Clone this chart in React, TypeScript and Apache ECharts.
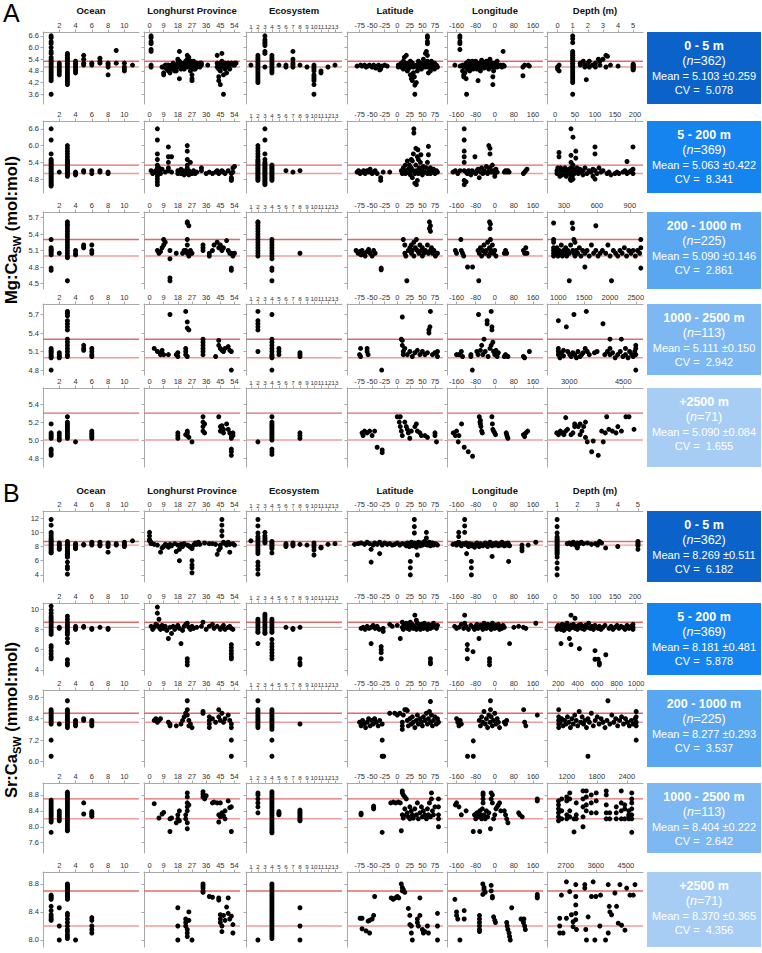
import React, { useEffect, useRef } from 'react';
import * as echarts from 'echarts';

// ---------- DATA: each row = [x, y1, y2, ...] ----------
// Panel A : Mg:Ca_SW (mol:mol)
const A1_OCEAN = [
  [1, 6.6, 6.5, 6.3, 6.2, 6.0, 5.8, 5.7, 5.5, 5.4, 5.3, 5.2, 5.1, 5.0, 4.9, 4.8, 4.7, 4.6, 4.5, 4.4, 4.3, 3.6],
  [2, 5.2, 5.1, 5.0, 4.9, 4.8, 4.7, 4.6],
  [3, 5.7, 5.6, 5.5, 5.4, 5.3, 5.2, 5.1, 5.0, 4.9, 4.8, 4.7, 4.6, 4.5, 4.4, 4.3, 4.2, 4.1],
  [4, 5.3, 5.2, 5.1, 5.0, 4.9, 4.8, 4.7], [5, 5.6, 5.4, 5.2, 5.1], [6, 5.2, 5.1], [7, 5.45, 5.3, 5.2],
  [8, 5.2, 5.1, 5.0, 4.6], [9, 5.85, 5.2], [10, 5.2, 5.0, 4.9, 4.8], [11, 5.1],
];
const A1_PROVINCE = [
  [1, 6.6, 6.5, 6.3, 6.2, 5.9, 5.8, 5.1, 5.0], [8, 5.0], [9, 4.6, 4.7, 5.0], [10, 5.1, 5.0], [11, 4.9, 5.0, 5.1],
  [12, 5.1, 4.8], [13, 5.0, 4.7], [14, 5.1, 4.9], [15, 5.0, 5.2], [16, 5.1, 5.0, 4.8], [17, 4.8, 5.1],
  [18, 5.2, 5.4, 5.0], [19, 5.8, 5.3, 4.4, 5.1], [20, 5.1, 4.9, 5.2], [21, 5.0, 5.1], [22, 4.9, 5.2, 5.0],
  [23, 5.1, 5.3], [24, 5.4, 5.6, 5.0, 5.2], [25, 5.5, 5.2, 5.1], [26, 5.0, 4.8, 5.3], [27, 4.6, 4.3, 4.4, 5.1],
  [28, 5.3, 5.1, 4.9], [29, 4.9, 5.2], [30, 5.2, 5.0], [31, 5.1], [32, 5.0, 5.2], [33, 5.2, 5.1], [37, 5.1],
  [43, 5.6, 5.0, 5.2], [44, 4.5, 4.3, 5.1, 4.9], [45, 4.1, 4.8, 5.0, 5.2], [46, 5.3, 5.7, 5.0], [47, 3.6, 4.6, 5.1],
  [48, 4.9, 5.2, 5.0], [49, 4.7, 5.1], [50, 5.0, 5.2], [51, 4.9, 5.1], [52, 5.2], [53, 5.1], [54, 5.1, 5.2], [55, 5.2],
];
const A1_ECO = [
  [1, 5.1], [2, 5.6, 5.5, 5.4, 5.3, 5.2, 5.1, 5.0, 4.9, 4.8, 4.7, 4.6, 4.5, 4.4, 4.3, 4.2],
  [3, 6.6, 6.4, 6.3, 6.2, 6.1, 5.8, 5.7, 5.0], [4, 5.6, 5.5, 5.4, 5.3, 5.2, 5.1, 5.0, 4.9, 4.8, 4.7],
  [5, 5.1], [6, 5.0, 5.1], [7, 5.8, 5.4, 5.2, 5.1, 5.0], [8, 5.1], [9, 5.0],
  [10, 5.1, 5.0, 4.9, 4.8, 4.6, 4.5, 4.4, 4.3, 4.1, 3.6], [11, 4.7, 4.8], [12, 5.0], [13, 5.1],
];
const A1_LAT = [
  [-80, 5.05], [-73, 5.1], [-70, 5.05], [-65, 5.1], [-62, 5.0], [-58, 5.05], [-55, 5.1], [-50, 5.0], [-47, 5.1],
  [-43, 4.95], [-40, 5.05], [-37, 5.1], [-35, 4.85], [-33, 4.9], [-30, 5.05], [-25, 5.1], [-20, 5.05],
  [2, 5.1, 5.0], [5, 5.05], [8, 5.2, 5.0], [10, 5.1], [12, 5.3, 4.9], [14, 5.5, 5.1], [16, 5.0, 5.2], [18, 5.6, 5.1],
  [20, 5.05, 4.8], [22, 5.2, 4.9], [24, 5.1], [26, 4.6, 5.0, 5.3], [28, 4.4, 5.1], [30, 4.5, 4.3, 5.2], [32, 4.7, 5.0],
  [34, 5.05, 4.5], [35, 4.07, 3.6], [38, 4.2, 5.1], [40, 5.0, 4.8], [42, 5.3, 5.1], [44, 5.0], [46, 5.2], [48, 5.1, 4.9],
  [50, 5.0], [52, 5.4], [54, 5.1, 5.2], [56, 5.7, 5.0], [58, 5.8, 5.1], [60, 6.6, 6.5, 6.3, 6.2, 5.6, 5.3], [62, 5.0, 4.7],
  [64, 5.2, 5.1], [66, 4.8, 5.0], [68, 5.1, 5.3], [70, 5.0], [72, 5.1], [74, 5.2, 4.9], [76, 5.0, 5.1], [78, 5.1], [80, 5.0],
];
const A1_LON = [
  [-167, 5.1], [-146, 6.6, 6.5, 6.3, 6.2, 5.9], [-145, 5.05], [-135, 5.1, 4.8], [-130, 4.6, 4.5, 5.0], [-125, 5.1, 4.7],
  [-120, 5.2, 5.0, 4.4], [-118, 3.6], [-115, 5.1, 4.9], [-110, 5.0, 5.3], [-105, 5.2, 4.8], [-100, 5.1], [-95, 5.0, 5.3],
  [-90, 5.1, 4.9], [-85, 5.2], [-80, 5.05, 5.3], [-75, 5.1, 4.9], [-70, 4.3, 5.0], [-65, 5.2, 5.1], [-60, 5.0, 4.8],
  [-55, 5.1, 5.35], [-50, 5.05], [-45, 5.2, 4.95], [-40, 5.1], [-35, 5.0, 5.3], [-30, 5.1], [-25, 5.2, 4.9],
  [-20, 5.05, 5.4], [-15, 5.1], [-10, 5.0, 5.2], [-8, 4.1, 4.5], [-5, 5.1, 4.8], [0, 5.0, 5.2], [5, 5.1], [10, 5.0, 5.3],
  [15, 5.1], [20, 5.05], [25, 5.1], [30, 5.0], [35, 5.8, 5.1], [40, 5.05], [118, 4.55, 5.0], [125, 5.1], [140, 5.1], [145, 5.05],
];
const A1_DEPTH = [
  [0, 5.0, 4.9], [0.1, 4.8, 5.1],
  [1, 6.6, 6.45, 6.25, 5.8, 5.7, 5.6, 5.5, 5.4, 5.3, 5.2, 5.1, 5.0, 4.9, 4.8, 4.7, 4.6, 4.5, 4.4, 4.3, 4.2, 3.6],
  [1.5, 5.2, 5.1], [1.7, 5.3], [1.8, 5.1, 5.0], [1.9, 4.35], [2.0, 5.2], [2.1, 5.3, 5.0], [2.3, 5.1], [2.5, 5.2, 5.0],
  [2.7, 5.4], [2.8, 5.3, 5.1], [3.0, 5.4], [3.2, 5.6, 5.0], [3.3, 5.55], [3.5, 5.1], [4.0, 5.05],
  [5, 5.15, 5.1, 5.05, 5.0, 4.95, 4.9, 4.85],
];

const A2_OCEAN = [
  [1, 6.6, 6.2, 5.7, 5.5, 5.45, 5.4, 5.35, 5.3, 5.25, 5.2, 5.15, 5.1, 5.05, 5.0, 4.95, 4.9, 4.85, 4.8, 4.75, 4.7, 4.65, 4.6, 4.55],
  [2, 5.05],
  [3, 6.0, 5.9, 5.8, 5.7, 5.6, 5.5, 5.45, 5.4, 5.35, 5.3, 5.25, 5.2, 5.15, 5.1, 5.05, 5.0, 4.95, 4.9],
  [4, 5.05, 5.0, 4.95], [5, 5.1, 5.05], [6, 5.1, 5.0], [7, 5.1, 5.05], [8, 5.05, 5.0],
];
const A2_PROVINCE = [
  [1, 5.1], [2, 5.0], [3, 5.05], [4, 5.1], [5, 6.6, 6.2, 5.7, 5.5, 5.3, 5.2, 5.1, 5.0, 4.9, 4.8, 4.7, 4.6],
  [6, 5.1, 5.2], [7, 5.0], [8, 5.15], [10, 5.05], [12, 5.95, 5.6, 5.4, 5.2, 5.1], [14, 5.6, 5.05],
  [18, 5.1, 5.0], [19, 5.05], [20, 5.15, 5.0], [21, 5.1], [22, 5.05, 4.95], [23, 5.1], [24, 6.0, 5.8, 5.5, 5.3, 5.2, 5.0],
  [25, 5.1, 4.95], [26, 5.4, 5.05], [27, 5.0], [28, 5.1], [29, 5.0], [30, 5.05], [33, 5.1, 5.2], [36, 5.0], [38, 5.05],
  [40, 5.0], [42, 5.05], [43, 5.1], [44, 5.0], [45, 5.05], [46, 5.1], [47, 5.05], [48, 5.0], [50, 5.1],
  [52, 4.8, 4.75, 4.85, 5.0], [53, 5.05, 5.2], [54, 5.25],
];
const A2_ECO = [
  [2, 6.0, 5.9, 5.8, 5.7, 5.6, 5.5, 5.45, 5.4, 5.35, 5.3, 5.25, 5.2, 5.15, 5.1, 5.05, 5.0, 4.95, 4.9, 4.85, 4.8, 4.75],
  [3, 6.6, 6.2, 5.7, 5.5, 5.4, 5.35, 5.3, 5.25, 5.2, 5.15, 5.1, 5.05, 5.0, 4.95, 4.9, 4.85, 4.8, 4.75, 4.7, 4.65, 4.6],
  [4, 5.3, 5.25, 5.2, 5.15, 5.1, 5.05, 5.0, 4.95, 4.9, 4.85, 4.8, 4.75], [6, 5.1], [7, 5.05], [8, 5.1],
];
const A2_LAT = [
  [-80, 5.05], [-77, 5.1], [-74, 5.0], [-70, 5.05], [-67, 5.1], [-64, 5.0], [-60, 5.1], [-57, 5.05], [-54, 5.15],
  [-50, 5.0], [-47, 5.05], [-44, 5.1], [-40, 5.0], [-33, 4.85, 4.75], [-28, 5.05], [-15, 5.05],
  [8, 5.1], [10, 5.0], [12, 5.2], [14, 5.05], [16, 5.3, 5.0], [18, 5.1], [20, 5.45, 5.05], [22, 5.15], [24, 5.0, 5.3],
  [26, 5.1, 4.95], [28, 5.5, 5.2], [30, 5.45, 4.85], [32, 5.7, 5.1], [33, 6.6, 6.45], [35, 4.65, 5.0], [37, 5.9, 5.3],
  [38, 4.6, 5.1], [40, 5.6, 4.75], [41, 5.85], [42, 5.5, 5.0], [44, 5.2], [46, 5.4, 5.05], [47, 5.67], [50, 5.1, 4.95],
  [52, 5.25], [55, 5.05], [58, 5.2], [60, 5.0, 5.4], [62, 5.97, 5.67], [64, 5.1], [66, 5.2, 5.0], [70, 5.05], [72, 5.15],
  [75, 5.0], [78, 5.1], [80, 5.05],
];
const A2_LON = [
  [-175, 5.05], [-165, 5.1], [-155, 5.0], [-145, 5.1], [-128, 6.6, 6.2, 5.8, 5.6, 5.4, 5.1, 4.75, 4.6],
  [-120, 4.7, 5.05], [-115, 5.0], [-110, 5.1], [-105, 5.05], [-100, 4.95], [-95, 5.1], [-90, 5.05], [-83, 5.6],
  [-80, 5.0], [-75, 5.1], [-70, 5.15], [-65, 4.85], [-60, 5.05], [-55, 5.2], [-50, 5.0], [-45, 5.1], [-40, 5.05],
  [-35, 5.25], [-30, 5.0], [-25, 6.0, 5.1], [-20, 5.9, 5.7, 5.2], [-15, 5.05], [-10, 5.3], [-5, 5.1], [0, 5.0, 4.9],
  [5, 5.15], [10, 5.05], [40, 5.05], [45, 5.1], [50, 5.05], [55, 5.1], [60, 5.05],
  [120, 5.0], [125, 5.05], [130, 5.1], [135, 5.15],
];
const A2_DEPTH = [
  [5, 5.0, 5.1], [7, 5.2, 5.05], [10, 5.75, 5.6, 5.15], [12, 5.0, 4.9], [14, 5.1, 5.2], [16, 5.05], [18, 5.15, 4.95],
  [20, 5.0], [22, 5.1], [25, 5.2, 5.05], [28, 4.9], [30, 5.1], [32, 5.0], [35, 5.15], [38, 5.05, 4.8],
  [40, 6.6, 5.65, 5.4, 5.2, 5.1, 5.0, 4.9, 4.75], [45, 6.3, 5.3, 5.15, 5.05, 4.95, 4.8], [48, 5.1, 5.0],
  [52, 5.8, 5.55, 5.05], [55, 5.2, 5.1], [58, 5.0], [62, 5.15], [65, 5.05], [70, 5.1, 4.95], [75, 5.2], [80, 5.0],
  [85, 5.1], [90, 5.05], [95, 5.15, 4.9], [100, 5.95, 5.7, 5.1, 4.8], [105, 5.0], [110, 5.2], [115, 5.05], [120, 5.1],
  [130, 5.0], [135, 5.05], [140, 4.95], [150, 5.0], [155, 5.05], [160, 5.0], [170, 5.05], [175, 5.1],
  [180, 5.43, 5.0], [185, 5.05], [190, 5.1], [195, 5.95, 5.15, 5.0],
];

const A3_OCEAN = [
  [1, 5.3, 5.15, 5.12, 5.1, 5.08, 5.05, 5.02, 4.78, 4.74], [2, 5.05],
  [3, 5.62, 5.58, 5.55, 5.5, 5.45, 5.4, 5.35, 5.3, 5.25, 5.2, 5.15, 5.1, 5.05, 5.0, 4.97, 4.55],
  [4, 5.1, 5.05, 5.02], [5, 5.2, 5.17, 5.15], [6, 5.2, 5.1, 5.05],
];
const A3_PROVINCE = [
  [5, 5.1], [6, 5.05], [7, 5.08], [8, 5.15], [9, 5.2, 5.3], [10, 5.25], [13, 5.1, 4.95, 4.55, 4.6], [17, 5.05],
  [21, 5.05], [22, 5.1], [23, 5.1], [24, 5.62, 5.6, 5.3, 5.2, 5.05], [25, 5.55, 5.0], [26, 5.1], [27, 5.05],
  [34, 5.2, 5.15, 5.1], [38, 5.05, 5.0], [40, 5.1], [41, 5.2], [43, 5.25], [44, 5.15], [45, 5.2], [46, 5.1],
  [47, 5.15], [49, 5.28], [50, 5.1], [51, 5.05], [52, 5.05, 4.78, 4.74], [53, 5.0], [54, 5.05],
];
const A3_ECO = [
  [2, 5.62, 5.6, 5.55, 5.5, 5.45, 5.4, 5.35, 5.3, 5.25, 5.2, 5.15, 5.1, 5.05, 5.0],
  [4, 5.3, 5.25, 5.2, 5.15, 5.1, 5.05, 5.0, 4.95, 4.78, 4.74, 4.55], [8, 5.05],
];
const A3_LAT = [
  [-82, 5.1], [-78, 5.05], [-75, 5.08], [-72, 5.02], [-70, 5.1], [-67, 5.05], [-64, 5.0], [-60, 5.08], [-57, 5.12],
  [-54, 5.05], [-50, 5.0], [-47, 5.1], [-44, 5.05], [-32, 4.78, 4.75], [12, 5.3], [15, 5.2, 5.05], [17, 5.0],
  [19, 4.55], [22, 5.1], [25, 5.15], [28, 5.2, 5.05], [30, 5.1], [33, 5.25, 5.0], [36, 5.15], [38, 5.3], [40, 5.1],
  [43, 5.05], [45, 5.2], [48, 5.1], [50, 5.15, 5.0], [53, 5.05], [56, 5.1], [60, 5.2], [62, 5.05], [64, 5.62, 5.5],
  [66, 5.55, 5.45, 5.1], [68, 5.15], [70, 5.05], [73, 5.1], [76, 5.0], [80, 5.05],
];
const A3_LON = [
  [-165, 5.1], [-160, 5.05], [-142, 5.3], [-140, 5.1], [-135, 5.05], [-130, 5.0], [-114, 4.8], [-93, 4.8], [-67, 4.55],
  [-70, 5.1], [-65, 5.05], [-60, 5.15], [-55, 5.0], [-50, 5.1], [-45, 5.2], [-40, 5.05], [-35, 5.1], [-30, 5.25],
  [-25, 5.0], [-22, 5.62, 5.15], [-20, 5.5], [-18, 5.58, 5.3, 5.05], [-15, 5.1], [-10, 5.2], [-5, 5.05], [0, 5.1],
  [5, 5.0], [40, 5.05], [45, 5.1], [50, 5.05], [120, 5.1], [125, 5.05], [130, 5.15], [135, 5.05],
];
const A3_DEPTH = [
  [205, 5.6, 5.3, 5.25, 5.15, 5.1, 5.05, 5.0], [215, 5.1], [225, 5.05], [235, 5.15], [245, 5.0], [255, 5.1],
  [265, 5.05], [275, 5.2], [285, 5.0], [295, 5.1], [305, 5.05], [315, 5.15], [325, 5.0], [335, 5.1],
  [348, 4.55, 5.05], [360, 5.2], [375, 5.6], [380, 5.5, 5.1], [390, 5.3, 5.05], [400, 5.25, 5.0], [410, 5.1],
  [425, 5.05], [440, 5.15], [455, 5.0], [470, 5.1], [490, 4.8, 5.05], [510, 5.1], [530, 5.0], [550, 5.2],
  [570, 5.05], [590, 5.55, 5.1], [610, 5.0], [630, 5.05], [650, 5.1], [680, 5.05], [700, 5.2], [720, 5.0],
  [733, 4.55], [750, 5.1], [770, 5.05], [790, 5.0], [810, 5.1], [830, 5.05], [850, 5.15], [870, 5.0], [890, 5.1],
  [910, 5.05], [930, 5.1], [950, 5.0], [970, 5.1], [990, 5.05], [1000, 5.3, 5.15, 4.78],
];

const A4_OCEAN = [
  [1, 5.15, 5.12, 5.1, 5.08, 5.05, 5.02, 5.0, 4.8], [2, 5.08, 5.05, 5.02, 5.0],
  [3, 5.75, 5.72, 5.68, 5.6, 5.55, 5.5, 5.45, 5.3, 5.25, 5.2, 5.15, 5.1, 5.05, 5.02],
  [5, 5.2, 5.15, 5.12], [6, 5.15, 5.1, 5.05, 5.02],
];
const A4_PROVINCE = [
  [3, 5.15], [5, 5.1], [7, 5.05, 5.08], [8, 5.12], [9, 5.05], [12, 5.05], [13, 5.7], [17, 5.05], [18, 5.02, 5.08],
  [23, 5.75, 5.15, 5.1, 5.05], [24, 5.58, 5.48, 5.02], [25, 5.45], [34, 5.3, 5.25, 5.2, 5.15, 5.1, 5.05],
  [42, 5.02], [44, 5.28, 5.2], [45, 5.15], [46, 5.12], [47, 5.1], [48, 5.15], [50, 5.18], [51, 5.12], [52, 5.1, 4.8],
];
const A4_ECO = [
  [2, 5.75, 5.6, 5.55, 5.5, 5.45, 5.1], [4, 5.7, 5.3, 5.25, 5.2, 5.15, 5.1, 5.05, 5.02, 5.0, 4.8],
  [5, 5.15, 5.1, 5.05], [8, 5.08, 5.05, 5.02],
];
const A4_LAT = [
  [-75, 5.05], [-73, 5.15, 5.02], [-60, 5.1, 5.15], [-58, 5.05], [-31, 4.8], [8, 5.3], [10, 5.66, 5.28, 5.2],
  [12, 5.1, 5.05], [15, 5.15], [20, 5.05], [25, 5.1], [30, 5.02], [35, 5.08], [40, 5.12], [45, 5.05], [50, 5.1],
  [55, 5.05], [60, 5.08], [63, 5.45, 5.4], [65, 5.5], [66, 5.75], [70, 5.05], [75, 5.08], [80, 5.02, 5.1],
];
const A4_LON = [
  [-160, 5.05], [-150, 5.05], [-140, 5.1], [-135, 5.02], [-100, 5.05, 5.02], [-94, 4.8], [-75, 5.1], [-70, 5.05],
  [-68, 5.7], [-60, 5.12], [-55, 5.2], [-50, 5.05], [-45, 5.3], [-40, 5.1], [-32, 5.6, 5.55], [-28, 5.02],
  [-20, 5.15], [-15, 5.75, 5.2], [-12, 5.5, 5.45], [-8, 5.25], [-5, 5.1], [0, 5.05], [5, 5.12], [10, 5.02],
  [15, 5.08], [40, 5.02], [45, 5.05], [50, 5.03], [55, 5.02], [120, 5.02], [125, 5.0], [145, 5.1],
];
const A4_DEPTH = [
  [1000, 5.6, 5.15, 5.1, 5.05], [1030, 5.0], [1060, 5.08], [1100, 5.12, 5.03], [1155, 5.5], [1180, 5.1],
  [1220, 5.05], [1250, 5.02], [1280, 5.08], [1302, 5.7], [1320, 5.05], [1350, 5.0], [1380, 5.1], [1420, 5.02],
  [1450, 5.05], [1480, 5.08], [1520, 5.15], [1542, 5.75], [1560, 5.1], [1600, 5.05], [1700, 5.08], [1750, 5.1],
  [1865, 5.55], [1900, 5.05], [1950, 5.1], [2000, 5.3, 5.15, 5.05], [2050, 5.08], [2100, 5.0], [2150, 5.05],
  [2200, 5.1], [2220, 5.3], [2250, 5.02], [2300, 5.05, 5.15], [2350, 5.0], [2380, 5.1], [2420, 5.05],
  [2450, 5.02], [2480, 5.1], [2500, 5.2, 5.15, 5.05, 4.8],
];

const A5_OCEAN = [
  [1, 5.18, 5.08, 5.06, 5.04, 5.02, 4.9, 4.88, 4.85, 4.83], [2, 5.08, 5.05, 5.02, 5.0],
  [3, 5.26, 5.2, 5.18, 5.16, 5.14, 5.12, 5.1, 5.08, 5.06, 5.04, 5.02], [4, 4.98], [6, 5.1, 5.08, 5.06, 5.04, 5.02],
];
const A5_PROVINCE = [
  [18, 5.08, 5.05, 5.02], [23, 5.06], [24, 5.1, 5.08, 5.05], [25, 5.03], [27, 4.98], [34, 5.26, 5.2, 5.15, 5.1],
  [35, 5.18, 5.08], [44, 5.26], [45, 5.15, 5.1], [46, 5.16], [47, 5.12, 5.08], [49, 5.18], [50, 5.12], [51, 5.08],
  [52, 5.05, 5.02, 4.9, 4.87, 4.83], [53, 5.08, 5.05],
];
const A5_ECO = [
  [2, 4.98], [4, 5.26, 5.2, 5.18, 5.16, 5.14, 5.12, 5.1, 5.08, 5.06, 5.04, 5.02, 5.0, 4.9, 4.87, 4.84], [8, 5.08, 5.05, 5.02],
];
const A5_LAT = [
  [-70, 5.08], [-68, 5.05], [-65, 5.1], [-60, 5.08], [-55, 5.1], [-50, 5.05], [-45, 5.1], [-40, 4.92], [-30, 4.89, 4.86],
  [0, 5.26], [4, 5.2], [6, 5.26, 5.15], [8, 5.1], [10, 5.05], [15, 5.2], [18, 5.15], [20, 5.12], [22, 5.08],
  [25, 5.02], [28, 5.1], [35, 5.15], [38, 5.18], [40, 5.1], [45, 5.08], [48, 5.05], [55, 5.05], [60, 5.03],
  [75, 5.08, 5.05], [78, 4.98],
];
const A5_LON = [
  [-174, 5.08], [-165, 5.05], [-160, 5.1], [-153, 4.98], [-150, 5.05], [-139, 5.18], [-128, 4.92], [-111, 4.87],
  [-93, 4.82], [-65, 5.26], [-62, 5.2], [-60, 5.18, 5.22], [-58, 5.15], [-55, 5.1], [-52, 5.08], [-12, 5.26],
  [-10, 5.18], [-8, 5.12], [-5, 5.1], [0, 5.08], [3, 5.06], [48, 5.08], [50, 5.06], [52, 5.04], [55, 5.02],
  [120, 5.06], [125, 5.04], [130, 5.08], [138, 5.1],
];
const A5_DEPTH = [
  [2650, 5.08], [2700, 5.06], [2750, 5.1], [2800, 5.08], [2850, 5.06], [2900, 5.25, 5.1], [2950, 5.12], [3050, 5.06],
  [3100, 5.08], [3150, 5.15, 5.18], [3250, 5.15], [3300, 5.18, 5.06], [3350, 5.1], [3400, 5.15], [3450, 5.2, 5.03],
  [3500, 4.98], [3622, 4.87], [3666, 4.99], [3806, 4.83], [3900, 5.1], [3944, 4.98], [4000, 5.08], [4040, 5.26],
  [4100, 5.12], [4200, 5.1], [4300, 5.08], [4350, 5.15], [4450, 5.1], [4575, 5.26], [4660, 5.26], [4800, 5.12],
];

// Panel B : Sr:Ca_SW (mmol:mol)
const B1_OCEAN = [
  [1, 11.8, 11.0, 10.0, 9.8, 9.5, 9.2, 9.0, 8.8, 8.6, 8.4, 8.2, 8.0, 7.8, 7.6, 7.4, 7.2, 7.1], [2, 8.5, 8.3, 8.1, 7.9, 7.7, 7.6],
  [3, 8.7, 8.5, 8.3, 8.1, 7.9, 7.7, 7.5, 7.3, 7.1, 6.9, 6.7, 6.5, 5.8, 5.2, 4.85, 4.1],
  [4, 8.4, 8.2, 8.0, 7.8, 7.7], [5, 8.3, 8.2], [6, 8.6, 8.4, 8.2], [7, 8.6, 8.3, 8.1], [8, 8.5, 8.3, 8.0, 7.2],
  [9, 8.4, 8.2], [10, 8.6, 8.4, 8.2, 8.0], [11, 8.8],
];
const B1_PROVINCE = [
  [0, 10.0, 9.5, 9.0, 8.8], [1, 8.6, 8.4], [3, 8.3], [5, 8.2], [7, 7.2], [8, 7.8], [9, 8.0], [10, 8.3], [11, 8.2],
  [12, 7.9], [13, 8.3], [14, 8.1], [16, 8.4], [17, 7.3], [18, 8.2], [19, 6.0, 7.6], [20, 8.3], [21, 8.0], [22, 8.4],
  [24, 8.2], [25, 8.1], [26, 7.9], [27, 7.7, 6.0, 5.4, 5.0, 4.3], [28, 8.2], [29, 8.5], [30, 8.3], [31, 8.6],
  [32, 8.3], [35, 8.5], [38, 8.4], [40, 8.4], [42, 8.3], [43, 6.9], [44, 7.5], [45, 8.2, 7.8],
  [46, 11.8, 11.0, 10.2, 9.5], [47, 8.6], [48, 8.4], [49, 8.2], [50, 8.6], [51, 8.3, 7.2], [53, 8.4], [54, 8.2],
];
const B1_ECO = [
  [1, 8.8], [2, 11.8, 10.9, 9.9, 9.4, 9.1, 8.8, 8.5, 8.2, 7.9, 7.6, 7.3, 7.0, 5.8, 5.3, 4.8, 4.1],
  [3, 10.0, 9.5, 9.2, 8.9, 8.7, 8.5], [4, 8.7, 8.5, 8.3, 8.1, 7.9, 7.7, 7.1], [6, 8.4, 8.2, 8.0], [7, 8.5, 8.3, 8.1],
  [8, 8.3], [9, 8.2], [10, 8.5, 8.2, 7.9, 7.5, 6.8], [11, 7.8, 7.9], [12, 8.3], [13, 8.4],
];
const B1_LAT = [
  [-85, 8.3], [-78, 8.4], [-72, 8.5], [-65, 8.3], [-60, 8.6], [-55, 8.4], [-52, 7.6, 5.8], [-48, 8.2], [-45, 8.5],
  [-40, 8.3], [-35, 7.0, 8.6], [-30, 8.2], [-25, 8.5], [-20, 8.3], [-15, 8.4], [-10, 8.2], [-5, 8.3], [0, 8.5],
  [5, 8.2], [10, 8.4], [15, 8.3], [18, 8.1], [20, 8.5], [22, 8.2], [24, 8.0], [26, 5.9, 5.0, 4.0, 8.3], [28, 8.6],
  [30, 8.1], [32, 8.4], [34, 11.8, 10.8, 9.9, 8.5], [36, 8.2], [38, 7.9], [40, 6.8, 8.4], [42, 8.6], [44, 8.3],
  [46, 8.1], [48, 8.5], [50, 8.2], [52, 8.4], [54, 8.7], [56, 8.3], [58, 10.0, 9.2, 8.5], [60, 8.2], [62, 8.4],
  [64, 8.6], [66, 8.1], [68, 8.3], [70, 8.5], [72, 8.2], [75, 8.4], [78, 8.3], [80, 8.2],
];
const B1_LON = [
  [-175, 8.3], [-165, 8.4], [-160, 8.2], [-155, 8.5], [-151, 10.0, 9.4, 8.6], [-145, 8.3], [-140, 8.1], [-135, 8.4],
  [-126, 11.8, 10.9, 10.0, 8.3], [-120, 8.5], [-118, 7.0], [-115, 8.2], [-110, 8.0], [-105, 8.4], [-100, 8.1],
  [-98, 5.9, 5.0, 4.0], [-95, 8.3], [-90, 8.1], [-85, 7.9], [-80, 8.3], [-75, 8.5], [-70, 8.2], [-65, 8.0], [-60, 8.4],
  [-55, 8.2], [-50, 8.1], [-45, 8.3], [-40, 8.5], [-35, 8.2], [-30, 8.0], [-25, 8.4], [-20, 8.6], [-15, 8.3],
  [-11, 6.6, 8.1], [-5, 8.4], [0, 8.2], [5, 8.5], [10, 8.3], [15, 8.1], [20, 8.4], [25, 8.2], [30, 8.6], [35, 8.3],
  [40, 8.1], [45, 8.4], [50, 8.2], [55, 8.5], [58, 5.9, 8.3], [62, 8.1], [114, 8.2, 7.8, 7.4], [140, 8.2], [172, 8.6],
];
const B1_DEPTH = [
  [1, 11.8, 10.8, 9.9, 9.35, 9.1, 8.9, 8.7, 8.5, 8.3, 8.1, 7.9, 7.7, 7.5, 7.3, 7.1, 6.9, 6.5, 5.7, 4.9, 4.0],
  [1.5, 8.4], [1.6, 8.5], [1.7, 8.3], [1.8, 8.6], [1.9, 8.2], [2.0, 7.8, 8.0, 8.5], [2.1, 8.4], [2.2, 8.6], [2.3, 8.4],
  [2.5, 8.5], [2.7, 8.3], [2.9, 8.4], [3.0, 8.2], [3.1, 8.7], [3.2, 8.5], [3.4, 7.8], [4.0, 8.0],
  [5, 8.7, 8.5, 8.3, 8.1, 7.6],
];

const B2_OCEAN = [
  [1, 10.3, 9.9, 9.6, 9.3, 9.1, 8.9, 8.7, 8.5, 8.3, 8.1, 7.9, 7.7, 7.5, 6.4, 6.2, 5.9, 5.6, 5.3, 5.1], [2, 8.2, 8.1],
  [3, 9.3, 9.0, 8.7, 8.5, 8.3, 8.1, 7.9, 7.7, 7.5, 7.1, 6.7, 5.0, 4.7, 4.5],
  [4, 8.3, 8.1, 8.0], [5, 8.3, 8.2], [6, 8.1, 8.0], [7, 8.2], [8, 8.1, 8.0],
];
const B2_PROVINCE = [
  [1, 8.3], [2, 8.0], [3, 8.2], [4, 8.5], [5, 10.2, 9.6, 8.4], [6, 9.0, 8.2], [7, 8.0], [8, 8.4], [9, 8.1], [10, 8.3],
  [11, 7.9], [12, 7.1], [13, 8.2], [14, 7.6], [15, 8.3], [16, 8.0], [17, 8.2], [18, 8.4], [19, 8.1], [20, 6.6],
  [21, 7.9], [22, 8.3], [23, 8.5], [24, 8.6, 5.1, 4.8, 4.5], [25, 8.2], [26, 8.0], [27, 8.3], [28, 8.1], [30, 8.2],
  [33, 8.3], [34, 8.7], [36, 8.0], [38, 8.3], [40, 8.5], [41, 8.1], [43, 8.3], [45, 8.0], [46, 8.2], [47, 8.4],
  [48, 8.0], [50, 8.2], [51, 8.3], [52, 8.1, 6.5, 6.2, 5.9, 5.6, 5.3, 5.1], [53, 8.0],
];
const B2_ECO = [
  [2, 9.0, 8.8, 8.6, 8.4, 8.2, 8.0, 7.8, 7.7, 6.6], [3, 9.5, 9.3, 9.1, 8.9, 8.7, 8.5, 8.3, 8.1, 7.9, 7.7, 7.6],
  [4, 9.0, 8.8, 8.6, 8.4, 8.2, 8.0, 7.8, 7.7, 7.0, 6.6, 6.3, 6.0, 5.7, 5.4, 5.1], [6, 8.2], [7, 8.1, 8.0], [8, 8.2, 5.1, 4.7, 4.5],
];
const B2_LAT = [
  [-72, 8.1], [-68, 8.2], [-64, 8.0], [-60, 8.3], [-56, 8.1], [-52, 6.6, 8.2], [-48, 8.4], [-44, 8.1], [-40, 8.3],
  [-36, 8.0], [-32, 6.3, 6.0, 5.7, 5.1], [-28, 7.8, 8.1], [-15, 8.5], [-10, 8.3], [0, 8.4], [6, 7.1], [10, 8.7, 8.2],
  [12, 8.0], [14, 8.5], [16, 8.3], [18, 8.6], [20, 8.1], [22, 8.4], [24, 8.0], [26, 8.7], [28, 8.2], [30, 8.5],
  [32, 8.1], [34, 8.3], [35, 9.4], [38, 8.9, 8.0], [40, 8.6], [42, 8.2], [44, 8.4], [46, 8.0], [48, 8.5], [50, 8.3],
  [52, 8.1], [54, 8.6], [56, 8.2], [58, 8.4], [60, 8.0], [62, 8.5], [64, 8.3], [66, 5.1, 4.8, 4.6, 8.1], [68, 8.4],
  [70, 8.2], [72, 8.6], [75, 8.3], [78, 8.1], [80, 8.4],
];
const B2_LON = [
  [-168, 8.3], [-160, 8.1], [-150, 8.2], [-140, 8.5], [-130, 8.1], [-126, 9.4, 8.6], [-120, 8.3], [-115, 6.5, 6.0, 5.1],
  [-110, 8.0], [-100, 8.4], [-91, 5.8], [-90, 8.2], [-85, 8.0], [-80, 8.3], [-75, 8.5], [-70, 8.1], [-66, 7.1],
  [-60, 8.4], [-55, 8.2], [-50, 8.0], [-45, 8.6], [-40, 8.3], [-35, 8.1], [-30, 8.5], [-25, 8.2], [-22, 5.1, 4.8, 4.5],
  [-20, 8.4], [-15, 8.0], [-10, 8.6], [-5, 8.3], [0, 8.1], [5, 8.4], [10, 8.2], [15, 8.5], [20, 8.0], [25, 8.3],
  [30, 8.1], [35, 8.4], [40, 8.2], [62, 6.6], [80, 8.2], [100, 8.3], [120, 8.2], [130, 8.1], [172, 8.6],
];
const B2_DEPTH = [
  [5, 8.2, 8.0], [8, 8.4], [10, 8.1], [12, 8.3], [15, 6.6, 8.0], [18, 8.5], [20, 8.2], [22, 7.9], [25, 8.4], [28, 8.1],
  [30, 8.6], [33, 8.3], [36, 7.1, 8.0], [40, 9.4, 6.5, 8.4], [43, 8.2], [46, 8.5], [50, 9.1, 8.1], [53, 8.3],
  [56, 8.0], [59, 8.4], [61, 6.1, 8.2], [64, 8.5], [67, 8.1], [70, 8.3], [73, 8.0], [76, 8.4], [80, 8.2], [84, 8.6],
  [88, 8.1], [92, 8.3], [96, 8.0], [100, 5.9, 5.05, 8.4], [104, 8.2], [108, 5.05, 8.1], [111, 4.5, 4.7, 8.3],
  [115, 8.0], [120, 8.2], [125, 8.4], [127, 5.5], [135, 8.1], [140, 8.3], [145, 8.0], [150, 8.2], [155, 8.4],
  [160, 8.1], [165, 8.3], [170, 8.2], [175, 8.0], [180, 8.4], [185, 8.1], [190, 8.3], [195, 8.5, 8.2, 8.0],
];

const B3_OCEAN = [
  [1, 8.9, 8.8, 8.7, 8.6, 8.5, 8.4, 8.3, 8.2, 8.1, 7.2, 6.3], [2, 8.1],
  [3, 9.4, 8.9, 8.8, 8.7, 8.6, 8.5, 8.4, 8.3, 8.2, 8.1, 8.0, 7.9], [4, 8.3, 8.2, 8.1, 8.0], [5, 8.4, 8.3],
  [6, 8.3, 8.2, 8.1, 8.0],
];
const B3_PROVINCE = [
  [3, 8.3], [4, 8.4], [5, 8.2], [6, 8.3], [7, 8.4], [12, 8.2], [13, 8.0, 8.1], [17, 8.0], [20, 8.1], [21, 8.3],
  [22, 8.5], [23, 8.7], [24, 9.4, 8.9, 8.6], [25, 8.3, 8.0], [26, 8.1], [27, 7.9], [34, 8.8, 8.7],
  [38, 8.5, 8.3, 8.1, 7.9], [40, 8.4], [42, 8.2], [44, 8.9, 8.5], [45, 8.3], [46, 8.7], [47, 8.2], [48, 8.4],
  [50, 8.6], [51, 8.3], [52, 8.1, 7.9, 7.2, 6.3],
];
const B3_ECO = [
  [2, 9.4, 8.9, 8.8, 8.7, 8.6, 8.5, 8.4, 8.3, 8.2, 8.1, 8.0, 7.9],
  [4, 8.9, 8.8, 8.7, 8.6, 8.5, 8.4, 8.3, 8.2, 8.1, 8.0, 7.9, 7.8, 7.2, 6.3], [8, 8.1],
];
const B3_LAT = [
  [-75, 8.2], [-72, 8.0], [-69, 8.3], [-66, 8.1], [-63, 7.9], [-60, 8.2], [-57, 8.4], [-54, 8.0], [-51, 8.3],
  [-48, 8.1], [-45, 8.4], [-42, 8.2], [-38, 8.0], [-35, 8.3], [-30, 7.2, 6.3, 8.1], [-27, 6.3], [-15, 8.7],
  [-5, 8.7], [0, 8.6], [5, 8.7], [10, 8.0, 7.8, 8.2], [12, 8.6], [15, 8.9], [18, 8.9], [20, 8.85, 8.3], [22, 8.0],
  [25, 8.4], [28, 8.1], [30, 8.5], [32, 8.2], [35, 7.9], [38, 8.3], [40, 8.6], [42, 8.1], [45, 8.4], [48, 8.2],
  [50, 8.0], [52, 8.5], [55, 8.3], [58, 8.7], [60, 8.1], [62, 8.4], [64, 8.8], [66, 9.36, 8.2], [68, 8.6], [70, 8.0],
  [72, 8.3], [75, 8.5], [78, 8.1], [80, 8.4], [82, 8.2],
];
const B3_LON = [
  [-160, 8.4], [-155, 8.2], [-150, 8.0], [-145, 8.3], [-140, 8.1], [-114, 6.3], [-90, 7.16, 6.3], [-65, 8.3],
  [-60, 8.0], [-55, 8.5], [-50, 8.2], [-45, 8.8], [-40, 8.1], [-35, 8.4], [-30, 7.9], [-25, 8.6], [-20, 8.2],
  [-18, 9.4, 8.9], [-15, 8.5], [-10, 8.0], [-5, 8.3], [0, 8.7], [5, 8.1], [10, 8.4], [15, 8.2], [20, 7.9], [40, 8.2],
  [45, 8.1], [50, 8.3], [121, 8.9], [125, 8.2], [130, 8.0], [178, 8.6],
];
const B3_DEPTH = [
  [205, 8.9, 8.5, 8.3, 8.1, 7.9], [220, 8.2], [235, 8.4], [250, 8.0], [265, 8.3], [280, 8.1], [295, 8.5], [310, 8.2],
  [325, 7.9], [340, 8.4], [355, 8.1], [370, 8.6], [385, 8.3], [400, 8.0], [415, 8.8], [430, 8.2], [445, 8.5],
  [460, 8.1], [475, 8.3], [490, 7.9], [505, 6.3, 8.4], [520, 8.2], [540, 8.7], [560, 8.0], [580, 8.3], [600, 8.5],
  [620, 8.1], [640, 8.4], [660, 8.2], [680, 7.9], [700, 8.3], [710, 9.4], [730, 8.1], [750, 8.6], [770, 8.2],
  [790, 8.4], [810, 8.0], [830, 8.3], [850, 8.5], [870, 8.1], [890, 8.4], [910, 8.2], [930, 8.0], [950, 8.3],
  [970, 8.1], [990, 8.4], [1000, 8.8, 8.5, 8.2, 8.0, 7.2],
];

const B4_OCEAN = [
  [1, 8.67, 8.62, 8.57, 8.52, 8.47, 8.42, 8.37, 8.32, 8.27, 8.22, 8.17, 8.12, 7.86], [2, 8.4, 8.35, 8.3, 8.25, 8.2, 8.15],
  [3, 8.87, 8.82, 8.77, 8.72, 8.67, 8.62, 8.57, 8.52, 8.47, 8.42, 8.37, 8.32, 8.27, 8.22, 8.17, 8.12, 8.07, 8.02, 7.97, 7.92, 7.9],
  [5, 8.6, 8.32], [6, 8.38, 8.34, 8.3, 8.26],
];
const B4_PROVINCE = [
  [3, 8.58], [6, 8.22], [8, 8.32], [9, 8.36], [13, 7.88, 8.2], [14, 8.22], [17, 8.1], [18, 8.2, 8.3], [19, 8.4, 8.15],
  [23, 8.3, 8.2], [24, 8.85, 8.75, 8.6, 8.5, 8.4, 8.1, 7.95], [25, 8.55], [34, 8.88, 8.82, 8.75], [35, 8.7],
  [36, 8.78], [40, 8.6], [41, 8.62], [43, 8.6], [44, 8.3, 8.12], [45, 8.25, 8.6], [46, 8.35], [47, 8.28],
  [48, 8.4, 8.2], [50, 8.65], [51, 8.48], [52, 8.5, 7.88],
];
const B4_ECO = [
  [2, 8.85, 8.8, 8.7, 8.6, 8.5, 8.35],
  [4, 8.88, 8.83, 8.78, 8.73, 8.68, 8.63, 8.58, 8.53, 8.48, 8.43, 8.38, 8.33, 8.28, 8.23, 8.18, 8.13, 8.08, 8.03, 7.98, 7.93, 7.88, 7.85],
  [5, 8.38, 8.34, 8.3], [8, 8.42, 8.38, 8.34, 8.3, 8.26, 8.22, 8.18, 8.15],
];
const B4_LAT = [
  [-72, 8.34, 8.3], [-47, 8.52, 8.48, 8.45], [-30, 7.86], [-13, 8.6], [-8, 8.62], [-3, 8.6], [2, 8.62], [6, 8.6],
  [8, 7.9], [10, 8.9, 8.85, 8.3], [12, 8.8, 8.22], [15, 8.75, 8.45], [18, 8.7, 8.3], [20, 8.35], [22, 8.25],
  [25, 8.5, 8.2], [28, 8.4], [30, 8.3], [32, 8.22], [35, 8.45], [38, 8.3], [40, 8.6], [42, 8.2], [45, 8.35],
  [48, 8.5], [50, 8.25], [52, 8.4], [55, 8.3], [58, 8.2], [60, 8.45], [62, 8.3], [64, 8.6], [66, 8.25],
  [68, 8.85, 8.7], [70, 8.4], [72, 8.3], [75, 8.5], [82, 8.7, 8.5, 8.3, 8.2, 8.0],
];
const B4_LON = [
  [-165, 8.55], [-160, 8.6], [-150, 8.5], [-140, 8.3], [-120, 8.4], [-90, 7.88], [-85, 8.3], [-80, 8.2],
  [-75, 8.35], [-70, 8.25], [-63, 7.88, 8.4], [-58, 8.3], [-55, 8.2], [-52, 8.45], [-49, 8.85, 8.8, 8.7, 8.6],
  [-45, 8.3], [-40, 8.2], [-35, 8.4], [-30, 8.25], [-25, 8.35], [-18, 7.95], [-15, 8.85, 8.7], [-10, 8.8, 8.6],
  [-5, 8.2], [0, 8.3], [5, 8.45], [10, 8.5], [15, 8.55], [20, 8.6], [25, 8.4], [40, 8.4], [45, 8.3], [50, 8.2],
  [55, 8.1], [100, 8.35], [105, 8.3], [115, 8.25], [178, 8.7, 8.65],
];
const B4_DEPTH = [
  [1035, 8.65, 8.55, 8.45, 8.35, 8.25, 8.15], [1100, 8.7, 8.4, 8.2], [1200, 8.75, 8.65, 8.3, 8.2],
  [1260, 8.85, 8.7, 8.4, 8.25], [1345, 8.2, 7.87], [1390, 8.6, 8.3, 8.2], [1525, 8.9, 8.7, 8.5, 8.25, 8.0],
  [1590, 8.9, 8.75, 8.55, 8.4], [1690, 8.8, 8.6, 8.35], [1790, 8.85, 8.65, 8.35], [1990, 8.9, 8.8, 8.55, 8.35, 8.2],
  [2060, 8.35, 8.2], [2190, 8.5, 8.35, 8.2], [2290, 8.9, 8.6, 8.4, 8.2], [2360, 8.55, 8.45, 8.2],
  [2440, 8.4, 8.3, 8.25, 8.2], [2500, 8.85, 8.7, 8.6, 8.45, 8.3, 8.2, 7.86],
];

const B5_OCEAN = [
  [1, 8.64, 8.62, 8.6, 8.58, 8.48, 8.42, 8.36, 8.33, 8.3, 8.28], [2, 8.46, 8.2, 8.0],
  [3, 8.8, 8.78, 8.76, 8.74, 8.72, 8.7, 8.68, 8.66, 8.64, 8.62, 8.6, 8.58, 8.38, 8.35, 8.3, 8.25, 8.2, 8.15, 8.12, 8.08, 8.05, 8.02],
  [4, 8.0], [6, 8.32, 8.28, 8.2, 8.15, 8.1],
];
const B5_PROVINCE = [
  [18, 8.46, 8.2, 8.0], [23, 8.3, 8.25, 8.2], [24, 8.15, 8.1, 8.05], [25, 8.4, 8.28], [27, 8.0],
  [34, 8.8, 8.77, 8.74, 8.7, 8.68], [38, 8.62], [40, 8.61], [44, 8.6, 8.57], [45, 8.36, 8.3, 8.25], [46, 8.2, 8.12],
  [47, 8.35], [48, 8.28], [49, 8.47], [50, 8.6, 8.38], [51, 8.3], [52, 8.34], [53, 8.22, 8.1],
];
const B5_ECO = [
  [2, 8.0],
  [4, 8.8, 8.77, 8.74, 8.71, 8.68, 8.65, 8.62, 8.59, 8.56, 8.53, 8.5, 8.47, 8.44, 8.41, 8.38, 8.35, 8.32, 8.29, 8.26, 8.23, 8.2, 8.17, 8.14, 8.11, 8.08, 8.05, 8.02],
  [8, 8.46, 8.2, 8.0],
];
const B5_LAT = [
  [-74, 8.31], [-70, 8.31, 8.16], [-62, 8.13], [-58, 8.27], [-55, 8.28, 8.1], [-50, 8.3], [-47, 8.35], [-45, 8.62],
  [-12, 8.6], [-8, 8.58], [-4, 8.6], [0, 8.62], [3, 8.6], [8, 8.8], [10, 8.75, 8.7], [12, 8.72], [15, 8.68],
  [22, 8.45], [25, 8.35, 8.22], [28, 8.2, 8.1], [30, 8.0], [40, 8.3, 8.25], [42, 8.2], [45, 8.6, 8.35], [50, 8.15],
  [52, 8.1], [55, 8.12], [60, 8.2], [62, 8.1], [80, 8.38, 8.2, 8.0],
];
const B5_LON = [
  [-167, 8.58], [-160, 8.4, 8.35], [-155, 8.3], [-146, 8.0], [-128, 8.42, 8.3], [-64, 8.35, 8.3, 8.25, 8.2, 8.15, 8.12],
  [-50, 8.8, 8.65], [-45, 8.75, 8.72], [-40, 8.68], [-15, 8.78, 8.7], [-10, 8.6, 8.62], [-5, 8.33], [0, 8.28],
  [3, 8.25], [50, 8.25], [52, 8.2], [55, 8.15], [60, 8.1], [62, 8.05], [65, 8.0], [71, 8.46], [110, 8.3],
  [120, 8.25], [122, 8.3], [125, 8.2], [128, 8.15], [178, 8.65, 8.62, 8.6],
];
const B5_DEPTH = [
  [2520, 8.31, 8.2, 8.1], [2571, 8.64], [2620, 8.1], [2720, 8.83, 8.31], [2820, 8.69], [2870, 8.36],
  [2920, 8.26, 8.19], [3000, 8.79, 8.62, 8.5, 8.38, 8.29], [3020, 8.15], [3270, 8.79, 8.74], [3300, 8.15],
  [3320, 8.0], [3370, 8.33], [3470, 8.62], [3520, 8.83], [3570, 8.0], [3600, 8.62], [3720, 8.2], [3740, 8.64],
  [3890, 8.0], [3970, 8.79, 8.1], [4000, 8.48], [4020, 8.4], [4070, 8.36], [4170, 8.67], [4220, 8.48], [4270, 8.24],
  [4320, 8.79], [4370, 8.21], [4470, 8.14], [4520, 8.74], [4620, 8.64], [4720, 8.64], [4770, 8.79],
];

// Summary boxes
const RANGES = ['0 - 5 m', '5 - 200 m', '200 - 1000 m', '1000 - 2500 m', '+2500 m'];
const COUNTS = [362, 369, 225, 113, 71];
const MG_MEAN = ['5.103 ±0.259', '5.063 ±0.422', '5.090 ±0.146', '5.111 ±0.150', '5.090 ±0.084'];
const MG_CV = ['5.078', '8.341', '2.861', '2.942', '1.655'];
const SR_MEAN = ['8.269 ±0.511', '8.181 ±0.481', '8.277 ±0.293', '8.404 ±0.222', '8.370 ±0.365'];
const SR_CV = ['6.182', '5.878', '3.537', '2.642', '4.356'];
const COL_TITLES = ['Ocean', 'Longhurst Province', 'Ecosystem', 'Latitude', 'Longitude', 'Depth (m)'];
const MG_REF = [5.0, 5.3];
const SR_REF = [8.2, 8.7];

// Axis tick labels
const OCEAN_TICKS = [2, 4, 6, 8, 10];
const PROV_TICKS = [0, 9, 18, 27, 36, 45, 54];
const ECO_TICKS = [1, 2, 3, 4, 5, 6, 7, 8, 9, 10, 11, 12, 13];
const LAT_TICKS = [-75, -50, -25, 0, 25, 50, 75];
const LON_TICKS = [-160, -80, 0, 80, 160];
const DEPTH_TICKS_A = [[0, 1, 2, 3, 4, 5], [0, 50, 100, 150, 200], [300, 600, 900], [1000, 1500, 2000, 2500], [3000, 4500]];
const DEPTH_TICKS_B = [[1, 2, 3, 4, 5], [0, 50, 100, 150, 200], [200, 400, 600, 800, 1000], [1200, 1800, 2400], [2700, 3600, 4500]];
const MG_Y_TICKS = [[3.6, 4.2, 4.8, 5.4, 6.0, 6.6], [4.8, 5.4, 6.0, 6.6], [4.5, 4.8, 5.1, 5.4, 5.7], [4.8, 5.1, 5.4, 5.7], [4.8, 5.0, 5.2, 5.4]];
const SR_Y_TICKS = [[4, 6, 8, 10, 12], [4, 6, 8, 10], [6.0, 7.2, 8.4, 9.6], [7.6, 8.0, 8.4, 8.8], [8.0, 8.4, 8.8]];

// ---------- layout / scales (not data) ----------
const FONT = "'Liberation Sans', Arial, Helvetica, sans-serif";
const COL_LEFT = [43, 144, 246, 347, 447, 547];
const COL_W = 96;
const BOX_X = 647;
const BOX_W = 114;
const ROWS_A = [[32, 104], [121, 193], [212, 289], [304, 375], [388, 467]];
const ROWS_B = [[511, 582], [603, 675], [690, 767], [783, 853], [872, 947]];
const X_RANGE = [[0, 11.8], [-3.5, 57.5], [0.3, 14], [-100, 91], [-200, 202]];
const DEPTH_RANGE_A = [[-0.7, 5.65], [-20, 220], [145, 1020], [780, 2640], [2380, 5050]];
const DEPTH_RANGE_B = [[0.5, 5.25], [-20, 220], [85, 1070], [805, 2725], [2140, 5010]];
const MG_Y_RANGE = [[3.1, 6.8], [4.3, 6.88], [4.4, 5.8], [4.72, 5.87], [4.7, 5.58]];
const SR_Y_RANGE = [[3, 13], [3.5, 10.6], [5.7, 10.0], [7.34, 9.1], [7.9, 8.97]];
const Y_DEC_A = [1, 1, 1, 1, 1];
const Y_DEC_B = [0, 0, 1, 1, 1];
const BOX_COLORS = ['#0b63c9', '#1684ef', '#5aa7f1', '#7db8f2', '#a7cdf5'];
const REF_COLORS = ['#ee9c9c', '#e06a6a']; // lower, upper

const PANEL_A = [
  [A1_OCEAN, A1_PROVINCE, A1_ECO, A1_LAT, A1_LON, A1_DEPTH],
  [A2_OCEAN, A2_PROVINCE, A2_ECO, A2_LAT, A2_LON, A2_DEPTH],
  [A3_OCEAN, A3_PROVINCE, A3_ECO, A3_LAT, A3_LON, A3_DEPTH],
  [A4_OCEAN, A4_PROVINCE, A4_ECO, A4_LAT, A4_LON, A4_DEPTH],
  [A5_OCEAN, A5_PROVINCE, A5_ECO, A5_LAT, A5_LON, A5_DEPTH],
];
const PANEL_B = [
  [B1_OCEAN, B1_PROVINCE, B1_ECO, B1_LAT, B1_LON, B1_DEPTH],
  [B2_OCEAN, B2_PROVINCE, B2_ECO, B2_LAT, B2_LON, B2_DEPTH],
  [B3_OCEAN, B3_PROVINCE, B3_ECO, B3_LAT, B3_LON, B3_DEPTH],
  [B4_OCEAN, B4_PROVINCE, B4_ECO, B4_LAT, B4_LON, B4_DEPTH],
  [B5_OCEAN, B5_PROVINCE, B5_ECO, B5_LAT, B5_LON, B5_DEPTH],
];

function expand(rows: number[][]): number[][] {
  const out: number[][] = [];
  for (const r of rows) for (let i = 1; i < r.length; i++) out.push([r[0], r[i]]);
  return out;
}

const AXIS_COLOR = '#a8a8a8';
const TICK_COLOR = '#333333';

function buildOption() {
  const grid: any[] = [];
  const xAxis: any[] = [];
  const yAxis: any[] = [];
  const series: any[] = [];
  const graphic: any[] = [];

  const panels = [
    { rows: ROWS_A, data: PANEL_A, depthTicks: DEPTH_TICKS_A, depthRange: DEPTH_RANGE_A, yTicks: MG_Y_TICKS, yRange: MG_Y_RANGE, yDec: Y_DEC_A, ref: MG_REF, mean: MG_MEAN, cv: MG_CV },
    { rows: ROWS_B, data: PANEL_B, depthTicks: DEPTH_TICKS_B, depthRange: DEPTH_RANGE_B, yTicks: SR_Y_TICKS, yRange: SR_Y_RANGE, yDec: Y_DEC_B, ref: SR_REF, mean: SR_MEAN, cv: SR_CV },
  ];

  const xTickSets = [OCEAN_TICKS, PROV_TICKS, ECO_TICKS, LAT_TICKS, LON_TICKS];

  panels.forEach((p) => {
    p.rows.forEach(([top, bot], r) => {
      for (let c = 0; c < 6; c++) {
        const gi = grid.length;
        grid.push({ left: COL_LEFT[c], top, width: COL_W, height: bot - top, containLabel: false, outerBoundsMode: 'none' });
        const xr = c < 5 ? X_RANGE[c] : p.depthRange[r];
        const xt = c < 5 ? xTickSets[c] : p.depthTicks[r];
        xAxis.push({
          gridIndex: gi, type: 'value', position: 'top', min: xr[0], max: xr[1],
          axisLine: { show: true, onZero: false, lineStyle: { color: AXIS_COLOR, width: 1 } },
          axisTick: { show: true, inside: false, length: 2.5, customValues: xt, lineStyle: { color: AXIS_COLOR } },
          axisLabel: {
            show: true, customValues: xt, fontSize: c === 2 ? 6.2 : 7.5, color: TICK_COLOR, margin: 3, fontFamily: FONT,
            hideOverlap: false, showMinLabel: true, showMaxLabel: true, formatter: (v: number) => String(v),
          },
          splitLine: { show: false },
        });
        const yr = p.yRange[r];
        const yt = p.yTicks[r];
        const dec = p.yDec[r];
        yAxis.push({
          gridIndex: gi, type: 'value', position: 'left', min: yr[0], max: yr[1],
          axisLine: { show: true, onZero: false, lineStyle: { color: AXIS_COLOR, width: 1 } },
          axisTick: { show: true, length: 2.5, customValues: yt, lineStyle: { color: AXIS_COLOR } },
          axisLabel: { show: c === 0, customValues: yt, fontSize: 7.5, color: TICK_COLOR, margin: 4, fontFamily: FONT, hideOverlap: false, formatter: (v: number) => v.toFixed(dec) },
          splitLine: { show: false },
        });
        // reference lines spanning the whole x-range of this panel
        p.ref.forEach((v, k) => {
          series.push({
            type: 'line', xAxisIndex: gi, yAxisIndex: gi, data: [[xr[0], v], [xr[1], v]],
            symbol: 'none', silent: true, z: 1, animation: false,
            lineStyle: { color: REF_COLORS[k], width: 1.4, type: 'solid' },
            itemStyle: { color: REF_COLORS[k] },
          });
        });
        series.push({
          type: 'scatter', xAxisIndex: gi, yAxisIndex: gi, data: expand(p.data[r][c]),
          symbol: 'circle', symbolSize: 5, itemStyle: { color: '#000000', opacity: 1 }, silent: true, z: 3,
        });
      }
      // summary box
      const cx = BOX_X + BOX_W / 2;
      graphic.push({ type: 'rect', shape: { x: BOX_X, y: top, width: BOX_W, height: bot - top }, style: { fill: BOX_COLORS[r] }, silent: true });
      graphic.push({ type: 'text', x: cx, y: top + 14, silent: true, style: { text: RANGES[r], fill: '#ffffff', fontSize: 12.5, fontWeight: 'bold', fontFamily: FONT, align: 'center', verticalAlign: 'middle' } });
      graphic.push({ type: 'text', x: cx, y: top + 29, silent: true, style: { text: '({i|n}=' + COUNTS[r] + ')', fill: '#ffffff', fontSize: 12.5, fontFamily: FONT, align: 'center', verticalAlign: 'middle', rich: { i: { fontStyle: 'italic', fontSize: 12.5, fontFamily: FONT, fill: '#ffffff' } } } });
      graphic.push({ type: 'text', x: cx, y: top + 44, silent: true, style: { text: 'Mean = ' + p.mean[r], fill: '#ffffff', fontSize: 11, fontFamily: FONT, align: 'center', verticalAlign: 'middle' } });
      graphic.push({ type: 'text', x: cx, y: top + 58, silent: true, style: { text: 'CV =  ' + p.cv[r], fill: '#ffffff', fontSize: 11, fontFamily: FONT, align: 'center', verticalAlign: 'middle' } });
    });
  });

  // column titles
  [10.5, 490].forEach((ty) => {
    COL_TITLES.forEach((t, c) => {
      graphic.push({ type: 'text', x: COL_LEFT[c] + COL_W / 2, y: ty, silent: true, style: { text: t, fill: '#111', fontSize: 9.5, fontWeight: 'bold', fontFamily: FONT, align: 'center', verticalAlign: 'middle' } });
    });
  });
  // panel letters
  graphic.push({ type: 'text', x: 3, y: 0, silent: true, style: { text: 'A', fill: '#000', fontSize: 25, fontFamily: FONT, align: 'left', verticalAlign: 'top' } });
  graphic.push({ type: 'text', x: 3, y: 480, silent: true, style: { text: 'B', fill: '#000', fontSize: 25, fontFamily: FONT, align: 'left', verticalAlign: 'top' } });
  // y-axis titles (rotated)
  const richY = {
    a: { fontSize: 16.5, fontWeight: 'bold', fontFamily: FONT, fill: '#000', lineHeight: 22, verticalAlign: 'middle' },
    s: { fontSize: 11, fontWeight: 'bold', fontFamily: FONT, fill: '#000', lineHeight: 11, verticalAlign: 'bottom' },
  };
  graphic.push({ type: 'text', x: 11, y: 230, rotation: Math.PI / 2, silent: true, style: { text: '{a|Mg:Ca}{s|SW}{a| (mol:mol)}', align: 'center', verticalAlign: 'middle', rich: richY } });
  graphic.push({ type: 'text', x: 11, y: 720, rotation: Math.PI / 2, silent: true, style: { text: '{a|Sr:Ca}{s|SW}{a| (mmol:mol)}', align: 'center', verticalAlign: 'middle', rich: richY } });

  return {
    animation: false,
    backgroundColor: '#ffffff',
    textStyle: { fontFamily: FONT },
    grid, xAxis, yAxis, series, graphic,
  };
}

export default function App() {
  const ref = useRef<HTMLDivElement>(null);
  useEffect(() => {
    if (!ref.current) return;
    const chart = echarts.init(ref.current, null, { renderer: 'svg' });
    chart.setOption(buildOption() as any);
    return () => chart.dispose();
  }, []);
  return <div ref={ref} style={{ position: 'absolute', left: 0, top: 0, width: 762, height: 953 }} />;
}
